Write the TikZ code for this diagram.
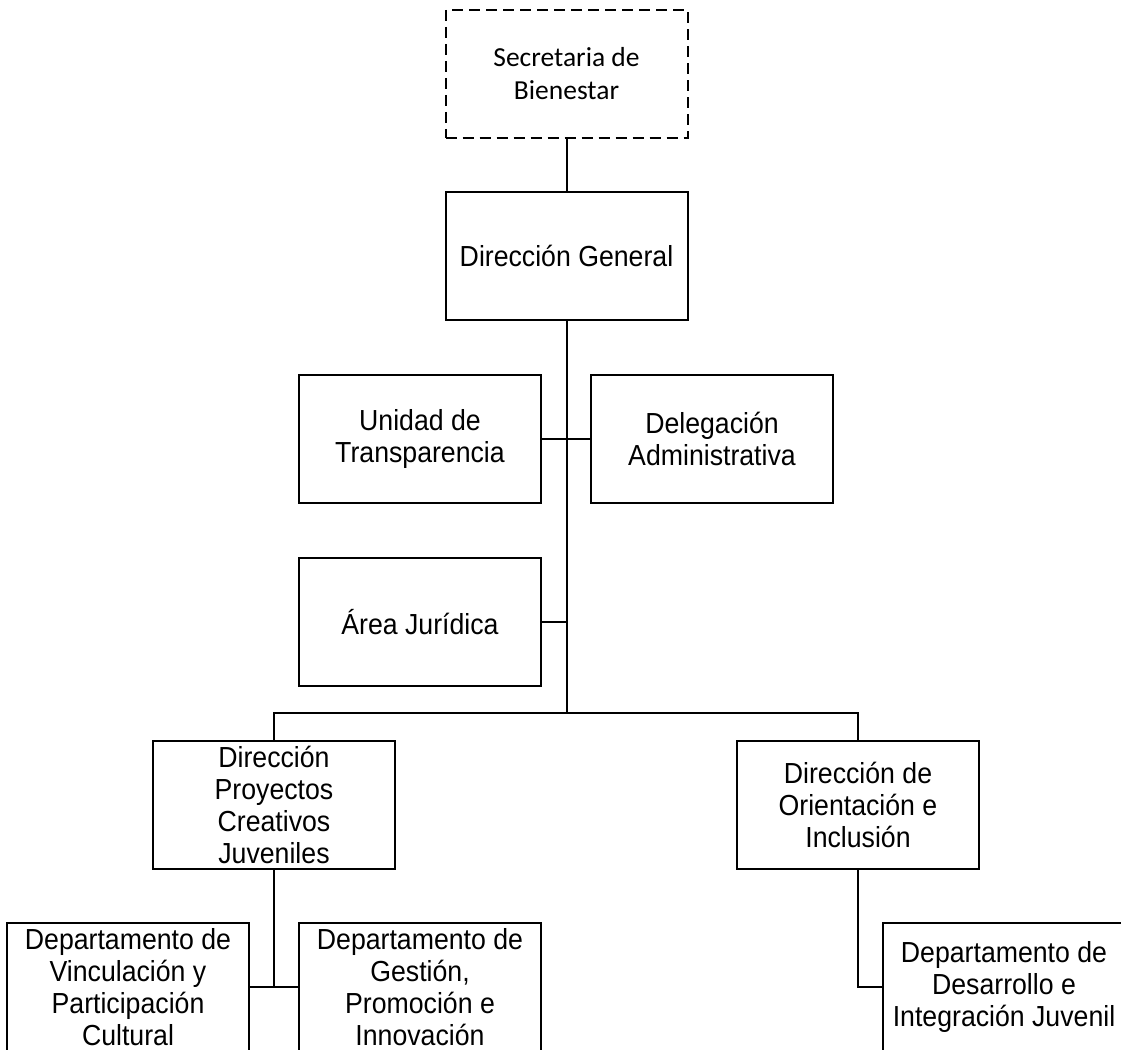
\documentclass[tikz,border=0pt]{standalone}
\usepackage{fontspec}
\setmainfont{Liberation Sans}[FakeStretch=0.92]
\newfontfamily\calib{Carlito}
\begin{document}
\begin{tikzpicture}[x=1pt,y=-1pt,
  orgbox/.style={draw=black, line width=2pt, minimum width=242pt, minimum height=128pt,
    inner sep=0pt, align=center, font=\fontsize{29}{32}\selectfont},
  link/.style={draw=black, line width=2pt}]
\useasboundingbox (0,0) rectangle (1121,1051);
\clip (0,0) rectangle (1121,1049.5);
\node[orgbox, dash pattern=on 11pt off 6pt, font=\calib\fontsize{27.5}{33}\selectfont] (sec) at (566.5,74) {Secretaria de\\Bienestar};
\node[orgbox] (dg) at (566.5,256) {Dirección General};
\node[orgbox] (ut) at (420,439) {Unidad de\\Transparencia};
\node[orgbox] (da) at (712,439) {Delegación\\Administrativa};
\node[orgbox] (aj) at (420,622) {Área Jurídica};
\node[orgbox] (dp) at (274,805) {Dirección\\Proyectos\\Creativos\\Juveniles};
\node[orgbox] (do) at (858,805) {Dirección de\\Orientación e\\Inclusión};
\node[orgbox] (dv) at (128,987) {Departamento de\\Vinculación y\\Participación\\Cultural};
\node[orgbox] (dgp) at (420,987) {Departamento de\\Gestión,\\Promoción e\\Innovación};
\node[orgbox] (ddi) at (1004,987) {Departamento de\\Desarrollo e\\Integración Juvenil};
\coordinate (j1) at (566.5,713);
\draw[link] (sec.south) -- (dg.north);
\draw[link] (dg.south) -- (j1);
\draw[link] (ut.east) -- (da.west);
\draw[link] (aj.east) -- (aj.east -| j1);
\draw[link] (dp.north) |- (j1) -| (do.north);
\draw[link] (dv.east) -- (dgp.west);
\draw[link] (dp.south) -- (dp.south |- dv.east);
\draw[link] (do.south) |- (ddi.west);
\end{tikzpicture}
\end{document}
